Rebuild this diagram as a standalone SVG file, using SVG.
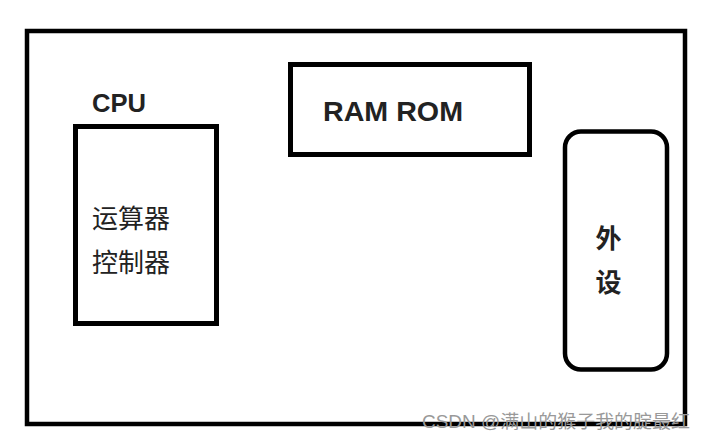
<svg xmlns="http://www.w3.org/2000/svg" width="708" height="441" viewBox="0 0 708 441">
<style>
.box{fill:none;stroke:#000;stroke-width:5}
.t{fill:#222;font-family:"Liberation Sans","Noto Sans CJK SC",sans-serif}
.b{font-weight:bold}
.wm{fill:#999;font-family:"Liberation Sans","Noto Sans CJK SC",sans-serif;font-size:18px}
</style>
<rect width="708" height="441" fill="#fff"/>
<g id="computer">
<rect class="box" x="27" y="31" width="658" height="393" style="stroke-width:4.5"/>
</g>
<g id="cpu">
<text class="t b" x="92" y="112" font-size="25" textLength="54" lengthAdjust="spacingAndGlyphs">CPU</text>
<rect class="box" x="75.5" y="126.5" width="141" height="197"/>
<text class="t" x="92" y="228" font-size="26">运算器</text>
<text class="t" x="92" y="272" font-size="26">控制器</text>
</g>
<g id="memory">
<rect class="box" x="290.5" y="64.5" width="239" height="90"/>
<text class="t b" x="323" y="121" font-size="28" textLength="140" lengthAdjust="spacingAndGlyphs">RAM ROM</text>
</g>
<g id="peripheral">
<rect class="box" x="565" y="131.5" width="102" height="238" rx="16" style="stroke-width:4.5"/>
<text class="t b" x="608.5" y="248" font-size="26" text-anchor="middle">外</text>
<text class="t b" x="608.5" y="292" font-size="26" text-anchor="middle">设</text>
</g>
<g id="connectors"/>
<text class="wm" x="422" y="428" textLength="268" lengthAdjust="spacingAndGlyphs">CSDN @满山的猴子我的腚最红</text>
</svg>
